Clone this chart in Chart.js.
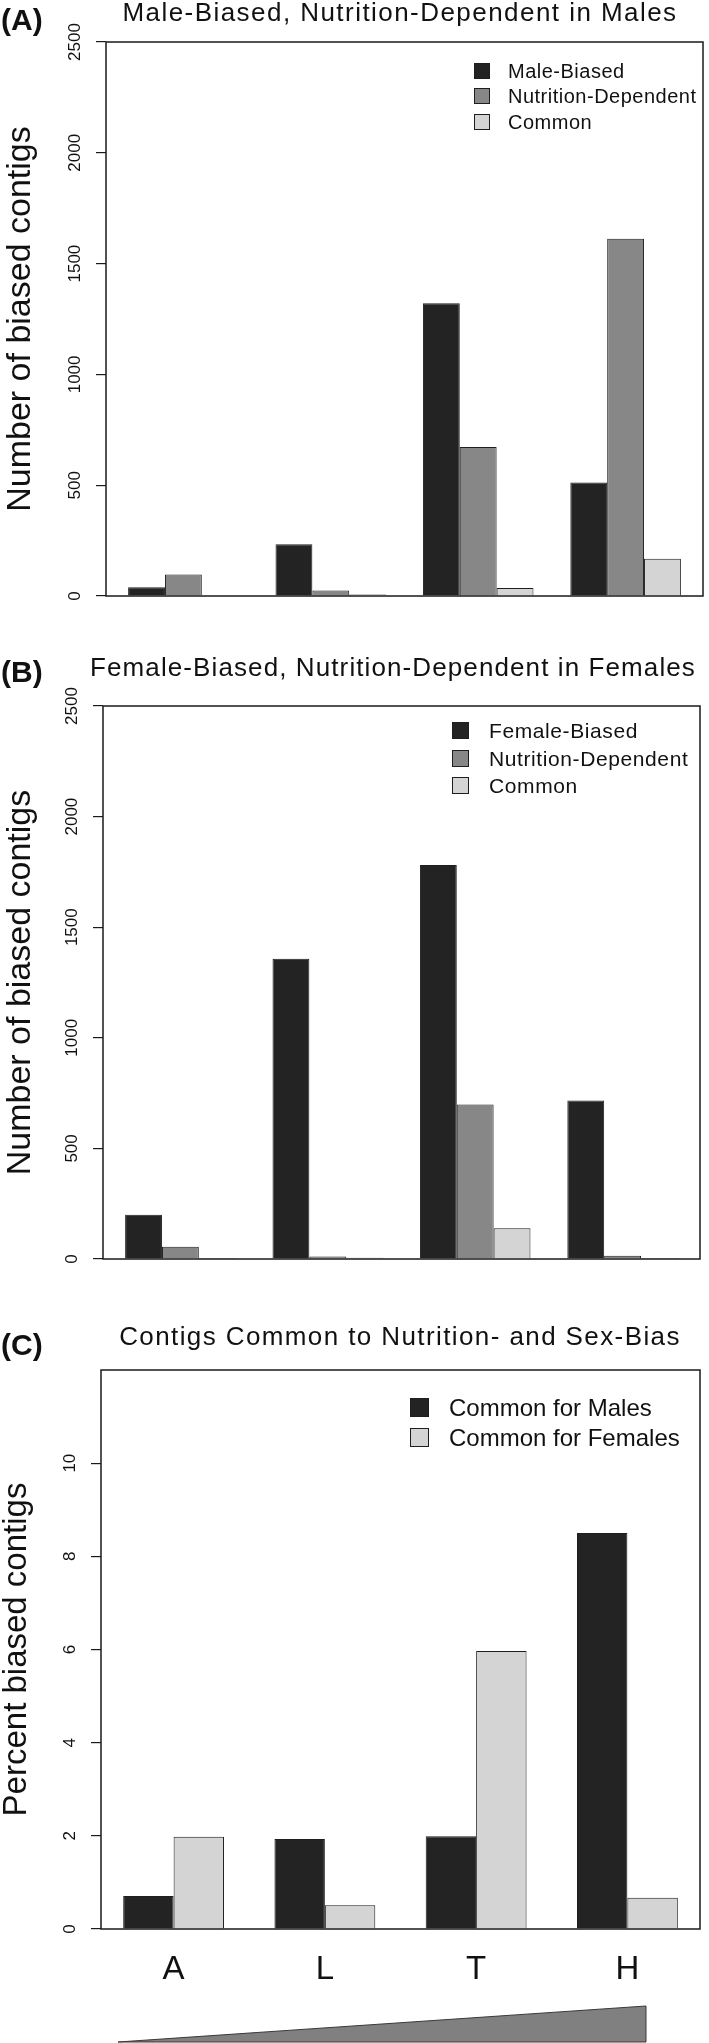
<!DOCTYPE html>
<html>
<head>
<meta charset="utf-8">
<script src="https://cdn.jsdelivr.net/npm/chart.js@4.4.1/dist/chart.umd.min.js"></script>
<style>
html,body{margin:0;padding:0;background:#fff;}
body{width:709px;height:2043px;position:relative;overflow:hidden;font-family:"Liberation Sans",Arial,Helvetica,sans-serif;color:#111;}
canvas{position:absolute;left:0;}
.plab{position:absolute;font-weight:bold;font-size:30px;line-height:30px;white-space:nowrap;}
.ttl{position:absolute;font-size:26px;line-height:26px;white-space:nowrap;transform:translateX(-50%);}
.lsw{position:absolute;border:1px solid #1e1e1e;box-sizing:border-box;}
.ltx{position:absolute;white-space:nowrap;}
svg{position:absolute;left:0;top:0;}
</style>
</head>
<body>
<canvas id="cA" width="709" height="620" style="top:0px"></canvas>
<canvas id="cB" width="709" height="650" style="top:640px"></canvas>
<canvas id="cC" width="709" height="703" style="top:1340px"></canvas>
<svg width="709" height="2043" viewBox="0 0 709 2043">
  <polygon points="118,2042 646,2006 646,2042" fill="#808080" stroke="#3a3a3a" stroke-width="1"/>
</svg>
<script>
// ---------- data ----------
const categories = ['A', 'L', 'T', 'H'];

const maleSeries = ['Male-Biased', 'Nutrition-Dependent', 'Common'];
const maleBiased = [40, 234, 1321, 512];
const maleNutrition = [97, 25, 672, 1612];
const maleCommon = [2, 7, 36, 168];

const femaleSeries = ['Female-Biased', 'Nutrition-Dependent', 'Common'];
const femaleBiased = [200, 1357, 1781, 717];
const femaleNutrition = [55, 11, 698, 15];
const femaleCommon = [4, 6, 139, 4];

const percentSeries = ['Common for Males', 'Common for Females'];
const percentMales = [0.71, 1.93, 1.99, 8.50];
const percentFemales = [1.98, 0.51, 5.97, 0.67];

const countTicks = [0, 500, 1000, 1500, 2000, 2500];
const percentTicks = [0, 2, 4, 6, 8, 10];

const panelLabels = ['(A)', '(B)', '(C)'];
const panelTitles = [
  'Male-Biased, Nutrition-Dependent in Males',
  'Female-Biased, Nutrition-Dependent in Females',
  'Contigs Common to Nutrition- and Sex-Bias'
];
const yTitles = ['Number of biased contigs', 'Number of biased contigs', 'Percent biased contigs'];

// ---------- styles ----------
const DARK = '#232323', MID = '#878787', LIGHT = '#d4d4d4';
const FONT = '"Liberation Sans", Arial, Helvetica, sans-serif';

// R barplot(beside=TRUE) group geometry in bar-width units
function groupLayout(nGroups, nSeries) {
  const w = nSeries + 1;
  const lo = 1, hi = nGroups * w;
  const ext = 0.04 * (hi - lo);
  return {
    centers: categories.map((_, g) => g * w + 1 + nSeries / 2),
    min: lo - ext, max: hi + ext, catPct: nSeries / w
  };
}

const framePlugin = {
  id: 'frame',
  afterDatasetsDraw(chart) {
    const {ctx, chartArea: a} = chart;
    ctx.save();
    ctx.strokeStyle = '#1a1a1a';
    ctx.lineWidth = 1.5;
    ctx.strokeRect(a.left, a.top, a.right - a.left, a.bottom - a.top);
    ctx.restore();
  },
  afterDraw(chart) {
    const ys = chart.scales.y, ctx = chart.ctx;
    ctx.save();
    ctx.fillStyle = '#111';
    ctx.font = '17px ' + FONT;
    ctx.textAlign = 'center';
    ctx.textBaseline = 'alphabetic';
    ys.ticks.forEach(t => {
      const py = ys.getPixelForValue(t.value);
      ctx.save();
      ctx.translate(chart.chartArea.left - 26, py);
      ctx.rotate(-Math.PI / 2);
      ctx.fillText(String(t.value), 0, 0);
      ctx.restore();
    });
    ctx.restore();
  }
};

function makePanel(p) {
  const L = groupLayout(categories.length, p.series.length);
  const datasets = p.series.map((name, s) => ({
    label: name,
    data: p.values[s].map((v, i) => ({x: L.centers[i], y: v})),
    backgroundColor: p.colors[s],
    borderColor: '#1e1e1e',
    borderWidth: 1,
    borderSkipped: 'start',
    categoryPercentage: L.catPct,
    barPercentage: 1.0
  }));
  const a = p.area;
  return new Chart(document.getElementById(p.id), {
    type: 'bar',
    data: {datasets},
    options: {
      responsive: false,
      animation: false,
      devicePixelRatio: 1,
      layout: {padding: {top: a.top - p.canvasTop, right: 709 - a.right, left: 0, bottom: 0}},
      plugins: {legend: {display: false}, tooltip: {enabled: false}, title: {display: false}},
      scales: {
        x: {
          type: 'linear', min: L.min, max: L.max, offset: false,
          grid: {display: false, drawTicks: false, offset: false},
          border: {display: false},
          afterBuildTicks: s => { s.ticks = L.centers.map(v => ({value: v})); },
          afterFit: s => { s.height = p.canvasTop + p.canvasH - a.bottom; },
          ticks: {
            display: p.showX,
            padding: 21,
            color: '#111',
            font: {family: FONT, size: 33},
            maxRotation: 0,
            callback: (v, i) => categories[i]
          }
        },
        y: {
          type: 'linear', min: 0, max: p.yMax,
          afterBuildTicks: s => { s.ticks = p.ticks.map(v => ({value: v})); },
          afterFit: s => { s.width = a.left; },
          border: {display: false},
          grid: {display: true, drawOnChartArea: false, drawTicks: true, tickLength: 10, color: '#1a1a1a', lineWidth: 1.2},
          ticks: {display: false},
          title: {
            display: true, text: p.yTitle, color: '#111',
            font: {family: FONT, size: p.yTitleSize, lineHeight: p.yTitleLH},
            padding: {top: 0, bottom: 0}
          }
        }
      }
    },
    plugins: [framePlugin]
  });
}

function addText(cls, txt, left, top, extra) {
  const d = document.createElement('div');
  d.className = cls;
  d.textContent = txt;
  d.style.left = left + 'px';
  d.style.top = top + 'px';
  if (extra) Object.assign(d.style, extra);
  document.body.appendChild(d);
}

function addLegend(series, colors, sqX, sqSize, rowsY, textX, fs, ls) {
  series.forEach((name, i) => {
    const sw = document.createElement('div');
    sw.className = 'lsw';
    sw.style.left = sqX + 'px';
    sw.style.top = (rowsY[i] - sqSize / 2) + 'px';
    sw.style.width = sqSize + 'px';
    sw.style.height = sqSize + 'px';
    sw.style.background = colors[i];
    document.body.appendChild(sw);
    addText('ltx', name, textX, rowsY[i] - fs / 2,
      {fontSize: fs + 'px', lineHeight: fs + 'px', letterSpacing: ls + 'px'});
  });
}

const panels = [
  {id: 'cA', canvasTop: 0, canvasH: 620, area: {left: 106, top: 42, right: 703, bottom: 596},
   series: maleSeries, values: [maleBiased, maleNutrition, maleCommon], colors: [DARK, MID, LIGHT],
   ticks: countTicks, yMax: 2500, yTitle: yTitles[0], yTitleSize: 34, yTitleLH: 1.2, showX: false},
  {id: 'cB', canvasTop: 640, canvasH: 650, area: {left: 103, top: 706, right: 700, bottom: 1259},
   series: femaleSeries, values: [femaleBiased, femaleNutrition, femaleCommon], colors: [DARK, MID, LIGHT],
   ticks: countTicks, yMax: 2500, yTitle: yTitles[1], yTitleSize: 34, yTitleLH: 1.2, showX: false},
  {id: 'cC', canvasTop: 1340, canvasH: 703, area: {left: 101, top: 1370, right: 700, bottom: 1929},
   series: percentSeries, values: [percentMales, percentFemales], colors: [DARK, LIGHT],
   ticks: percentTicks, yMax: 12, yTitle: yTitles[2], yTitleSize: 33, yTitleLH: 1.0, showX: true}
];
panels.forEach(makePanel);

// panel letters and titles
addText('plab', panelLabels[0], 1, 5);
addText('plab', panelLabels[1], 1, 657);
addText('plab', panelLabels[2], 1, 1330);
addText('ttl', panelTitles[0], 400, -1, {letterSpacing: '1.45px'});
addText('ttl', panelTitles[1], 393, 654, {letterSpacing: '1.1px'});
addText('ttl', panelTitles[2], 400, 1323, {letterSpacing: '1.4px'});

// legends
addLegend(maleSeries, [DARK, MID, LIGHT], 474, 16, [70.5, 96, 121.5], 508, 20, 0.5);
addLegend(femaleSeries, [DARK, MID, LIGHT], 452, 17, [730.5, 758, 785.5], 489, 21, 0.6);
addLegend(percentSeries, [DARK, LIGHT], 410, 19, [1407.5, 1437.5], 449, 24, 0);
</script>
</body>
</html>
